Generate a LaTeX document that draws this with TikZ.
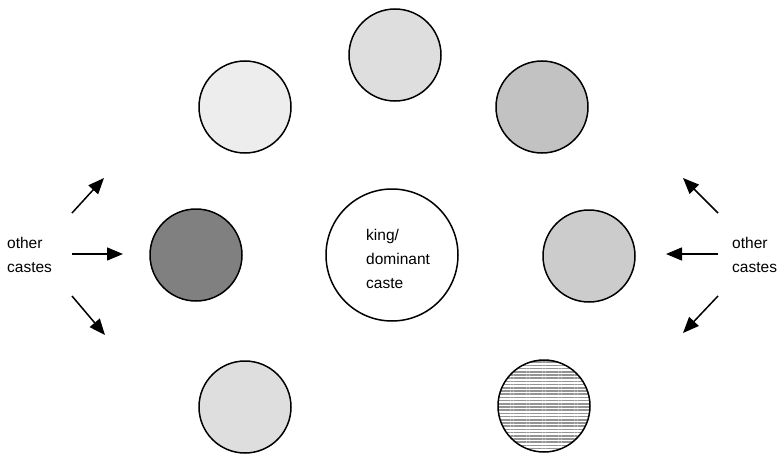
\documentclass[tikz,border=0pt]{standalone}
\usepackage{fontspec}
\setmainfont{Liberation Sans}
\usetikzlibrary{arrows.meta,patterns.meta}
\tikzset{
  caste/.style={circle,draw=black,line width=1.5pt,minimum size=92pt,inner sep=0pt},
  kingc/.style={circle,draw=black,line width=1.5pt,minimum size=132pt,inner sep=0pt},
  lbl/.style={align=left,font=\fontsize{15.5}{24}\selectfont,inner sep=0pt},
  arr/.style={line width=1.5pt,-{Triangle[length=16pt,width=13pt]}}
}
\begin{document}
\begin{tikzpicture}[x=1pt,y=-1pt]
\useasboundingbox (0,0) rectangle (780,455);
% circles
\node[caste,fill=black!13] (tc) at (395,55) {};
\node[caste,fill=black!7] (tl) at (245,107) {};
\node[caste,fill=black!24] (tr) at (542,107) {};
\node[caste,fill=black!50] (ml) at (196,255) {};
\node[caste,fill=black!20] (mr) at (589,256) {};
\node[caste,fill=black!13] (bl) at (245,407) {};
\node[caste,pattern={Lines[angle=0,distance=3.2pt,line width=1.5pt]},pattern color=black!42] (br) at (544,406) {};
\node[kingc] (k) at (392,255) {};
\node[lbl,anchor=west] (kt) at (366,259) {king/\\dominant\\caste};
% labels
\node[lbl,anchor=west] (lo) at (7,255) {other\\castes};
\node[lbl,anchor=west] (ro) at (732,255) {other\\castes};
% arrow coordinates
\coordinate (la1s) at (72,213); \coordinate (la1e) at (104,178);
\coordinate (la2s) at (72,254); \coordinate (la2e) at (123,254);
\coordinate (la3s) at (72,296); \coordinate (la3e) at (105,335);
\coordinate (ra1s) at (718,213); \coordinate (ra1e) at (683,178);
\coordinate (ra2s) at (718,254); \coordinate (ra2e) at (666,254);
\coordinate (ra3s) at (718,296); \coordinate (ra3e) at (683,333);
\draw[arr] (la1s) -- (la1e);
\draw[arr] (la2s) -- (la2e);
\draw[arr] (la3s) -- (la3e);
\draw[arr] (ra1s) -- (ra1e);
\draw[arr] (ra2s) -- (ra2e);
\draw[arr] (ra3s) -- (ra3e);
\end{tikzpicture}
\end{document}
